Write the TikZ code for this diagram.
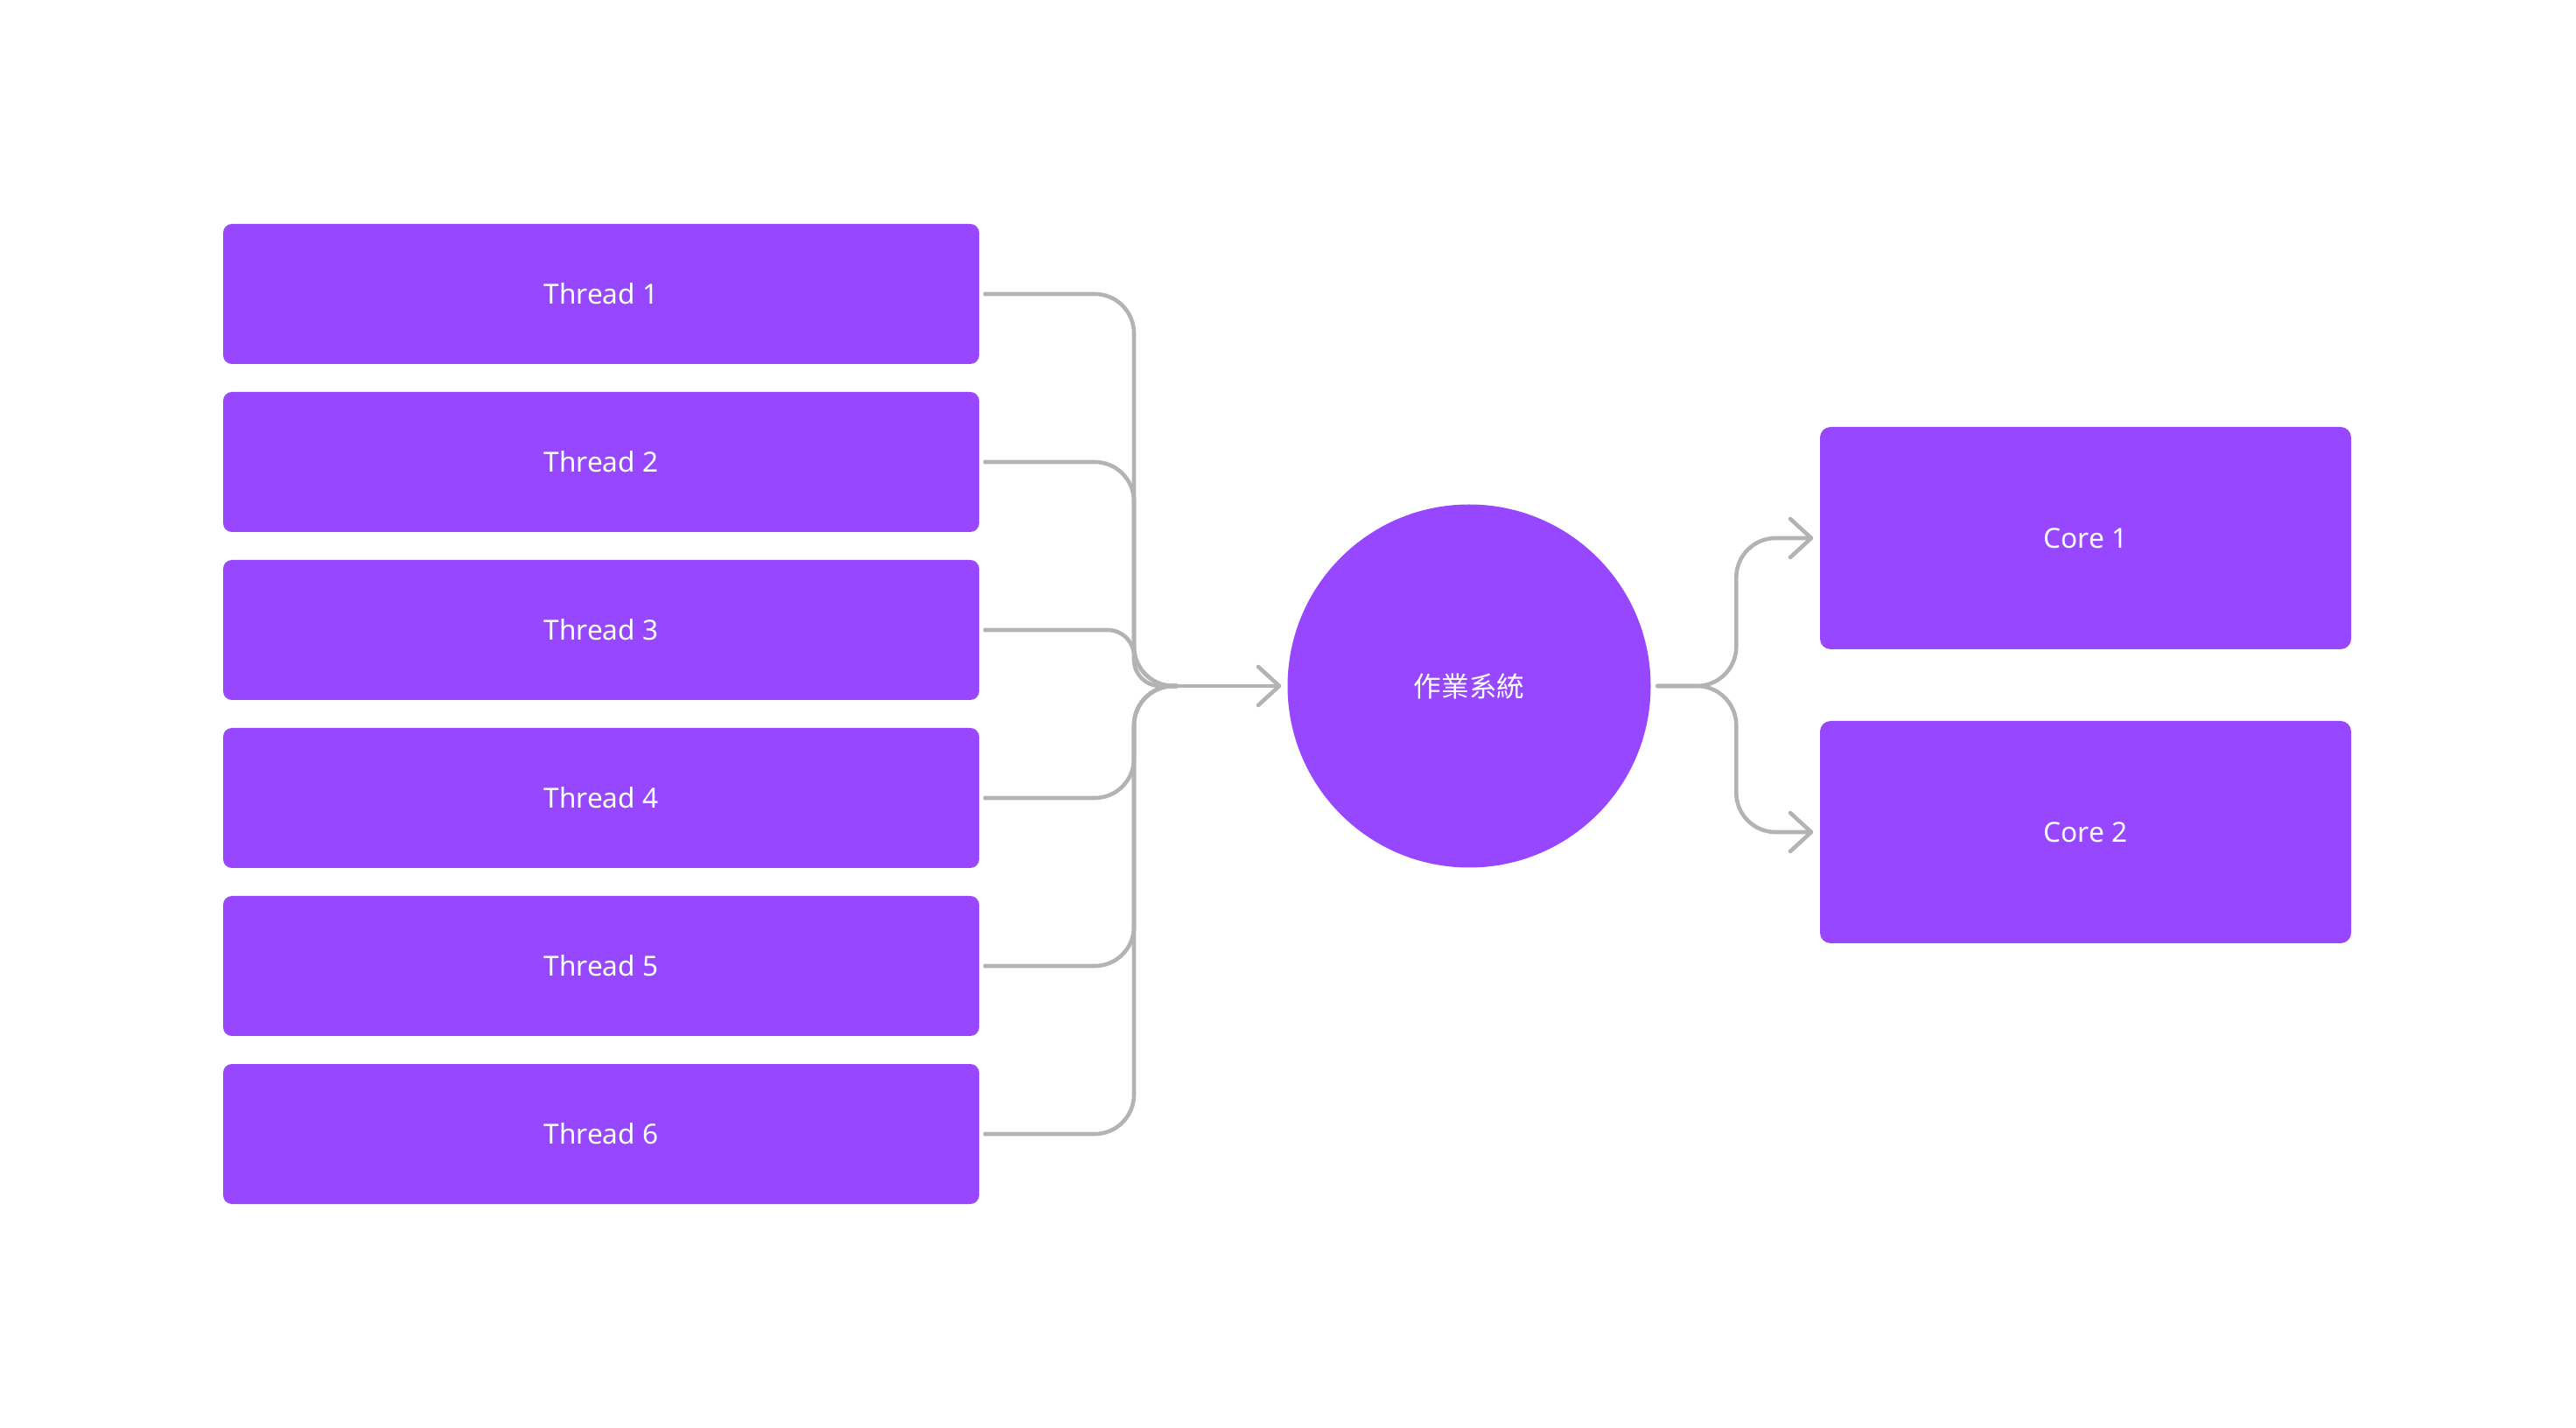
\documentclass[tikz,border=0pt]{standalone}
\usepackage{fontspec}
\setmainfont{Noto Sans}
\newfontfamily\cjk{Noto Sans CJK TC}
\usetikzlibrary{arrows.meta}
\definecolor{figpurple}{HTML}{9747FF}
\definecolor{wiregray}{HTML}{B3B3B3}

\begin{document}
\begin{tikzpicture}[thread/.style={fill=figpurple, text=white, rounded corners=0.1cm, minimum width=8.64cm, minimum height=1.6cm, inner sep=0pt, font=\fontsize{9}{11}\selectfont},
    core/.style={thread, minimum width=6.07cm, minimum height=2.54cm, rounded corners=0.12cm},
    kernel/.style={circle, fill=figpurple, text=white, minimum size=4.15cm, inner sep=0pt, font=\fontsize{9}{11}\selectfont\cjk},
    wire/.style={draw=wiregray, line width=1.3pt, line cap=round, rounded corners=0.45cm},
    arr/.style={wire, -{Straight Barb[length=2.4mm, width=4.4mm, round]}}]
    \useasboundingbox (0,0) rectangle (29.44,-16.32);

    \node[thread] (tone) at (6.87,-3.36) {Thread 1};
    \node[thread] (ttwo) at (6.87,-5.28) {Thread 2};
    \node[thread] (tthree) at (6.87,-7.20) {Thread 3};
    \node[thread] (tfour) at (6.87,-9.12) {Thread 4};
    \node[thread] (tfive) at (6.87,-11.04) {Thread 5};
    \node[thread] (tsix) at (6.87,-12.96) {Thread 6};
    \node[kernel] (os) at (16.79,-7.84) {作業系統};
    \node[core] (cone) at (23.835,-6.15) {Core 1};
    \node[core] (ctwo) at (23.835,-9.51) {Core 2};

    \coordinate (bus) at (12.96,-7.84);
    \coordinate (join) at (13.45,-7.84);

    \draw[wire] ([xshift=0.06cm]tone.east) -| (bus) -- (join);
    \draw[wire] ([xshift=0.06cm]ttwo.east) -| (bus) -- (join);
    \draw[wire, rounded corners=0.3cm] ([xshift=0.06cm]tthree.east) -| (bus) -- (join);
    \draw[wire] ([xshift=0.06cm]tfour.east) -| (bus) -- (join);
    \draw[wire] ([xshift=0.06cm]tfive.east) -| (bus) -- (join);
    \draw[wire] ([xshift=0.06cm]tsix.east) -| (bus) -- (join);
    \draw[arr] (join) -- ([xshift=-0.065cm]os.west);

    \draw[arr] ([xshift=0.07cm]os.east) -| ([xshift=-0.95cm]cone.west) -- ([xshift=-0.07cm]cone.west);
    \draw[arr] ([xshift=0.07cm]os.east) -| ([xshift=-0.95cm]ctwo.west) -- ([xshift=-0.07cm]ctwo.west);
  \end{tikzpicture}
\end{document}
